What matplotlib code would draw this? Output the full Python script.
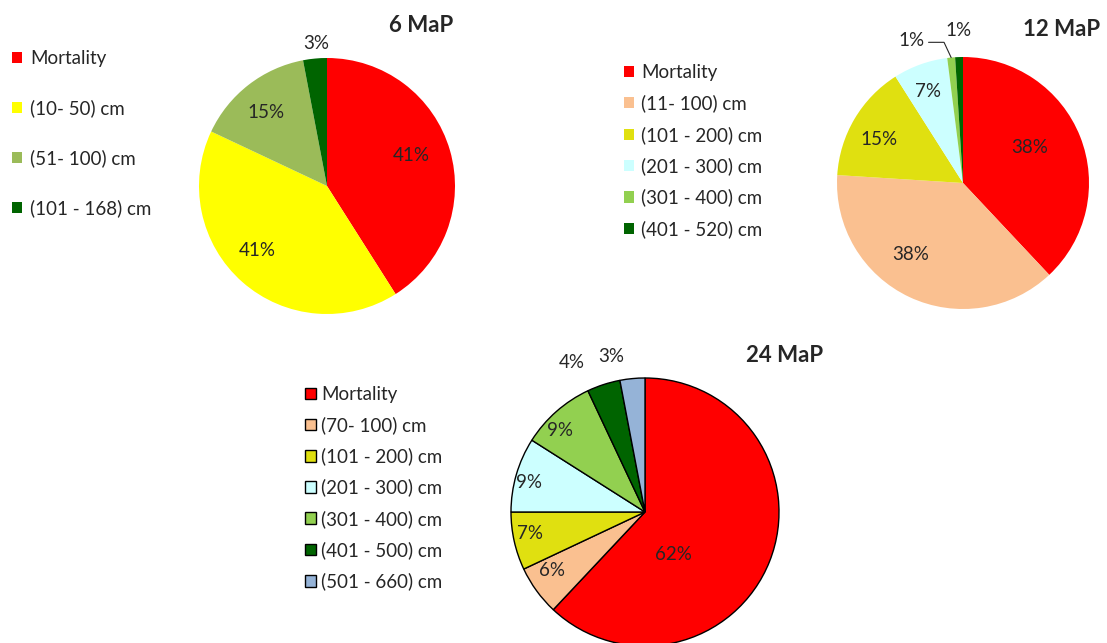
import matplotlib.pyplot as plt
import numpy as np

plt.rcParams['font.family'] = ['Lato', 'DejaVu Sans']

# 6 MaP
labels_6 = ['Mortality', '(10- 50) cm', '(51- 100) cm', '(101 - 168) cm']
values_6 = [41, 41, 15, 3]
colors_6 = ['#FF0000', '#FFFF00', '#9BBB59', '#006400']

# 12 MaP
labels_12 = ['Mortality', '(11- 100) cm', '(101 - 200) cm', '(201 - 300) cm',
             '(301 - 400) cm', '(401 - 520) cm']
values_12 = [38, 38, 15, 7, 1, 1]
colors_12 = ['#FF0000', '#FAC090', '#E0E010', '#CCFFFF', '#92D050', '#006400']

# 24 MaP
labels_24 = ['Mortality', '(70- 100) cm', '(101 - 200) cm', '(201 - 300) cm',
             '(301 - 400) cm', '(401 - 500) cm', '(501 - 660) cm']
values_24 = [62, 6, 7, 9, 9, 4, 3]
colors_24 = ['#FF0000', '#FAC090', '#E0E010', '#CCFFFF', '#92D050', '#006400', '#95B3D7']

W, H = 1107, 643
TXT = '#262626'
FS = 13.5
fig = plt.figure(figsize=(W / 100, H / 100), dpi=100)


def pie_axes(cx, cy, r):
    ax = fig.add_axes([(cx - r) / W, 1 - (cy + r) / H, 2 * r / W, 2 * r / H])
    return ax


def draw_pie(ax, values, colors, dists, shifts=None, edge=None, skip=()):
    wedges, _ = ax.pie(values, colors=colors, startangle=90, counterclock=False,
                       wedgeprops=dict(edgecolor=edge if edge else 'none',
                                       linewidth=1.0 if edge else 0))
    ax.set_xlim(-1, 1)
    ax.set_ylim(-1, 1)
    for w in wedges:
        w.set_clip_on(False)
    total = sum(values)
    cum = 0
    for i, v in enumerate(values):
        mid = 90 - 360 * (cum + v / 2) / total
        cum += v
        if i in skip:
            continue
        a = np.radians(mid + (shifts[i] if shifts else 0))
        ax.text(dists[i] * np.cos(a), dists[i] * np.sin(a), f'{v}%',
                ha='center', va='center', fontsize=FS, color=TXT)
    return wedges


def add_legend(handles, labels, x, y, spacing, pad, size=0.53):
    fig.legend(handles, labels, loc='upper left', bbox_to_anchor=(x / W, 1 - y / H),
               frameon=False, fontsize=FS, labelspacing=spacing, handlelength=size,
               handleheight=size, handletextpad=pad, borderpad=0, borderaxespad=0,
               labelcolor=TXT)


# 6 MaP
ax1 = pie_axes(327, 186, 128)
w1 = draw_pie(ax1, values_6, colors_6, [0.7, 0.74, 0.75, 1.12], shifts=[4, -6, 2, -1])
fig.text(421 / W, 1 - 25 / H, '6 MaP', ha='center', va='center',
         fontsize=16, fontweight='bold', color=TXT)
add_legend(w1, labels_6, 12, 50, 1.71, 0.43)

# 12 MaP
ax2 = pie_axes(963, 183, 126)
w2 = draw_pie(ax2, values_12, colors_12, [0.6, 0.7, 0.75, 0.78, 1.0, 1.21],
              shifts=[6, -11, 3, 1, 0, 0], skip=(4,))
# leader line for the small 301-400 slice
th = np.radians(90 - 360 * (sum(values_12[:4]) + values_12[4] / 2) / sum(values_12))
ax2.annotate(f'{values_12[4]}%', xy=(1.0 * np.cos(th), 1.0 * np.sin(th)),
             xytext=(-0.41, 1.13), ha='center', va='center', fontsize=FS, color=TXT,
             arrowprops=dict(arrowstyle='-', color=TXT, lw=0.8, shrinkA=1, shrinkB=0,
                             relpos=(1, 0.4),
                             connectionstyle='angle,angleA=0,angleB=115,rad=0'))
fig.text(1062 / W, 1 - 30 / H, '12 MaP', ha='center', va='center',
         fontsize=16, fontweight='bold', color=TXT)
add_legend(w2, labels_12, 624, 64, 0.72, 0.4)

# 24 MaP
ax3 = pie_axes(645, 512, 134)
w3 = draw_pie(ax3, values_24, colors_24, [0.38, 0.82, 0.87, 0.89, 0.88, 1.24, 1.19],
              shifts=[-35, -4, -2, 2, 5, 8, 7], edge='black')
fig.text(785 / W, 1 - 355 / H, '24 MaP', ha='center', va='center',
         fontsize=16, fontweight='bold', color=TXT)
add_legend(w3, labels_24, 305, 386, 0.71, 0.27, size=0.58)

fig.savefig('out.png', dpi=100, facecolor='white')
